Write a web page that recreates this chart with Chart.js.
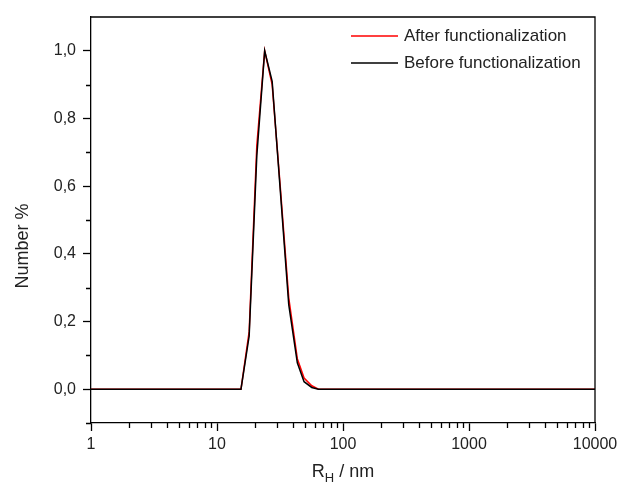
<!DOCTYPE html>
<html>
<head>
    <title>Number distribution</title>
    <meta charset="utf-8">
    <script src="https://cdn.jsdelivr.net/npm/chart.js"></script>
    <style>
        body { margin: 0; background: #fff; }
    </style>
</head>
<body>
    <canvas id="dlsChart" width="618" height="486"></canvas>
    <script>
        // hydrodynamic radius bins (nm) and number distributions
        var radius = [1, 15.5, 18.0, 20.7, 23.9, 27.4, 31.6, 37.1, 43.4, 49.1, 56.5, 63.9, 10000];
        var afterFunc = [0, 0, 0.17, 0.72, 1.0, 0.90, 0.61, 0.27, 0.09, 0.033, 0.01, 0, 0];
        var beforeFunc = [0, 0, 0.157, 0.69, 1.0, 0.91, 0.60, 0.25, 0.078, 0.022, 0.005, 0, 0];

        var seriesNames = ['After functionalization', 'Before functionalization'];
        var seriesColors = ['#ff0000', '#000000'];

        var xMajorTicks = [1, 10, 100, 1000, 10000];
        var yMajorTicks = [0, 0.2, 0.4, 0.6, 0.8, 1.0];
        var yMinorTicks = [-0.1, 0.1, 0.3, 0.5, 0.7, 0.9];
        var xMinorTicks = [];
        for (var d = 1; d < 10000; d *= 10) {
            for (var m = 2; m <= 9; m++) xMinorTicks.push(d * m);
        }

        var FONT = '"Liberation Sans", Arial, sans-serif';

        // frame, minor ticks, legend and axis titles
        var extras = {
            id: 'extras',
            afterDraw: function (chart) {
                var ctx = chart.ctx;
                var a = chart.chartArea;
                var xs = chart.scales.x;
                var ys = chart.scales.y;
                ctx.save();
                ctx.strokeStyle = '#000';
                ctx.lineWidth = 1.3;
                ctx.beginPath();
                ctx.moveTo(a.left, a.top);
                ctx.lineTo(a.right, a.top);
                ctx.lineTo(a.right, a.bottom);
                xMinorTicks.forEach(function (v) {
                    var px = Math.round(xs.getPixelForValue(v)) + 0.5;
                    ctx.moveTo(px, a.bottom);
                    ctx.lineTo(px, a.bottom + 5);
                });
                yMinorTicks.forEach(function (v) {
                    var py = Math.round(ys.getPixelForValue(v)) + 0.5;
                    ctx.moveTo(a.left, py);
                    ctx.lineTo(a.left - 5, py);
                });
                ctx.stroke();

                // legend
                ctx.font = '17px ' + FONT;
                ctx.textBaseline = 'middle';
                ctx.fillStyle = '#222';
                var rows = [36, 63];
                for (var i = 0; i < seriesNames.length; i++) {
                    ctx.strokeStyle = seriesColors[i];
                    ctx.lineWidth = 1.5;
                    ctx.beginPath();
                    ctx.moveTo(351, rows[i]);
                    ctx.lineTo(398, rows[i]);
                    ctx.stroke();
                    ctx.fillText(seriesNames[i], 404, rows[i]);
                }

                // x title with subscript
                var cx = (a.left + a.right) / 2;
                ctx.textBaseline = 'alphabetic';
                ctx.textAlign = 'left';
                ctx.font = '18px ' + FONT;
                var wR = ctx.measureText('R').width;
                var wRest = ctx.measureText(' / nm').width;
                ctx.font = '13px ' + FONT;
                var wH = ctx.measureText('H').width;
                var x0 = cx - (wR + wH + wRest) / 2;
                ctx.font = '18px ' + FONT;
                ctx.fillText('R', x0, 477);
                ctx.font = '13px ' + FONT;
                ctx.fillText('H', x0 + wR, 482);
                ctx.font = '18px ' + FONT;
                ctx.fillText(' / nm', x0 + wR + wH, 477);

                // y title
                ctx.translate(23, 246);
                ctx.rotate(-Math.PI / 2);
                ctx.textAlign = 'center';
                ctx.textBaseline = 'middle';
                ctx.fillText('Number %', 0, 0);
                ctx.restore();
            }
        };

        function toPoints(ys) {
            return radius.map(function (r, i) { return { x: r, y: ys[i] }; });
        }

        new Chart(document.getElementById('dlsChart'), {
            type: 'line',
            data: {
                datasets: [{
                    label: seriesNames[1],
                    data: toPoints(beforeFunc),
                    borderColor: seriesColors[1],
                    borderWidth: 1.5
                }, {
                    label: seriesNames[0],
                    data: toPoints(afterFunc),
                    borderColor: seriesColors[0],
                    borderWidth: 1.5
                }]
            },
            options: {
                responsive: false,
                animation: false,
                devicePixelRatio: 1,
                elements: {
                    point: { radius: 0 },
                    line: { tension: 0 }
                },
                layout: {
                    padding: { left: 0, top: 17, right: 23, bottom: 0 }
                },
                plugins: {
                    legend: { display: false },
                    tooltip: { enabled: false }
                },
                scales: {
                    x: {
                        type: 'logarithmic',
                        min: 1,
                        max: 10000,
                        afterBuildTicks: function (scale) {
                            scale.ticks = xMajorTicks.map(function (v) { return { value: v }; });
                        },
                        afterFit: function (scale) {
                            scale.height = 63;
                            scale.paddingLeft = 0;
                            scale.paddingRight = 0;
                        },
                        grid: {
                            drawOnChartArea: false,
                            tickLength: 8,
                            tickWidth: 1.3,
                            tickColor: '#000'
                        },
                        border: { color: '#000', width: 1.3 },
                        ticks: {
                            color: '#222',
                            padding: 4,
                            maxRotation: 0,
                            autoSkip: false,
                            font: { family: FONT, size: 16 },
                            callback: function (v) { return String(v); }
                        }
                    },
                    y: {
                        min: -0.1,
                        max: 1.1,
                        afterBuildTicks: function (scale) {
                            scale.ticks = yMajorTicks.map(function (v) { return { value: v }; });
                        },
                        afterFit: function (scale) { scale.width = 91; },
                        grid: {
                            drawOnChartArea: false,
                            tickLength: 8,
                            tickWidth: 1.3,
                            tickColor: '#000'
                        },
                        border: { color: '#000', width: 1.3 },
                        ticks: {
                            color: '#222',
                            padding: 7,
                            font: { family: FONT, size: 16 },
                            callback: function (v) { return v.toFixed(1).replace('.', ','); }
                        }
                    }
                }
            },
            plugins: [extras]
        });
    </script>
</body>
</html>
